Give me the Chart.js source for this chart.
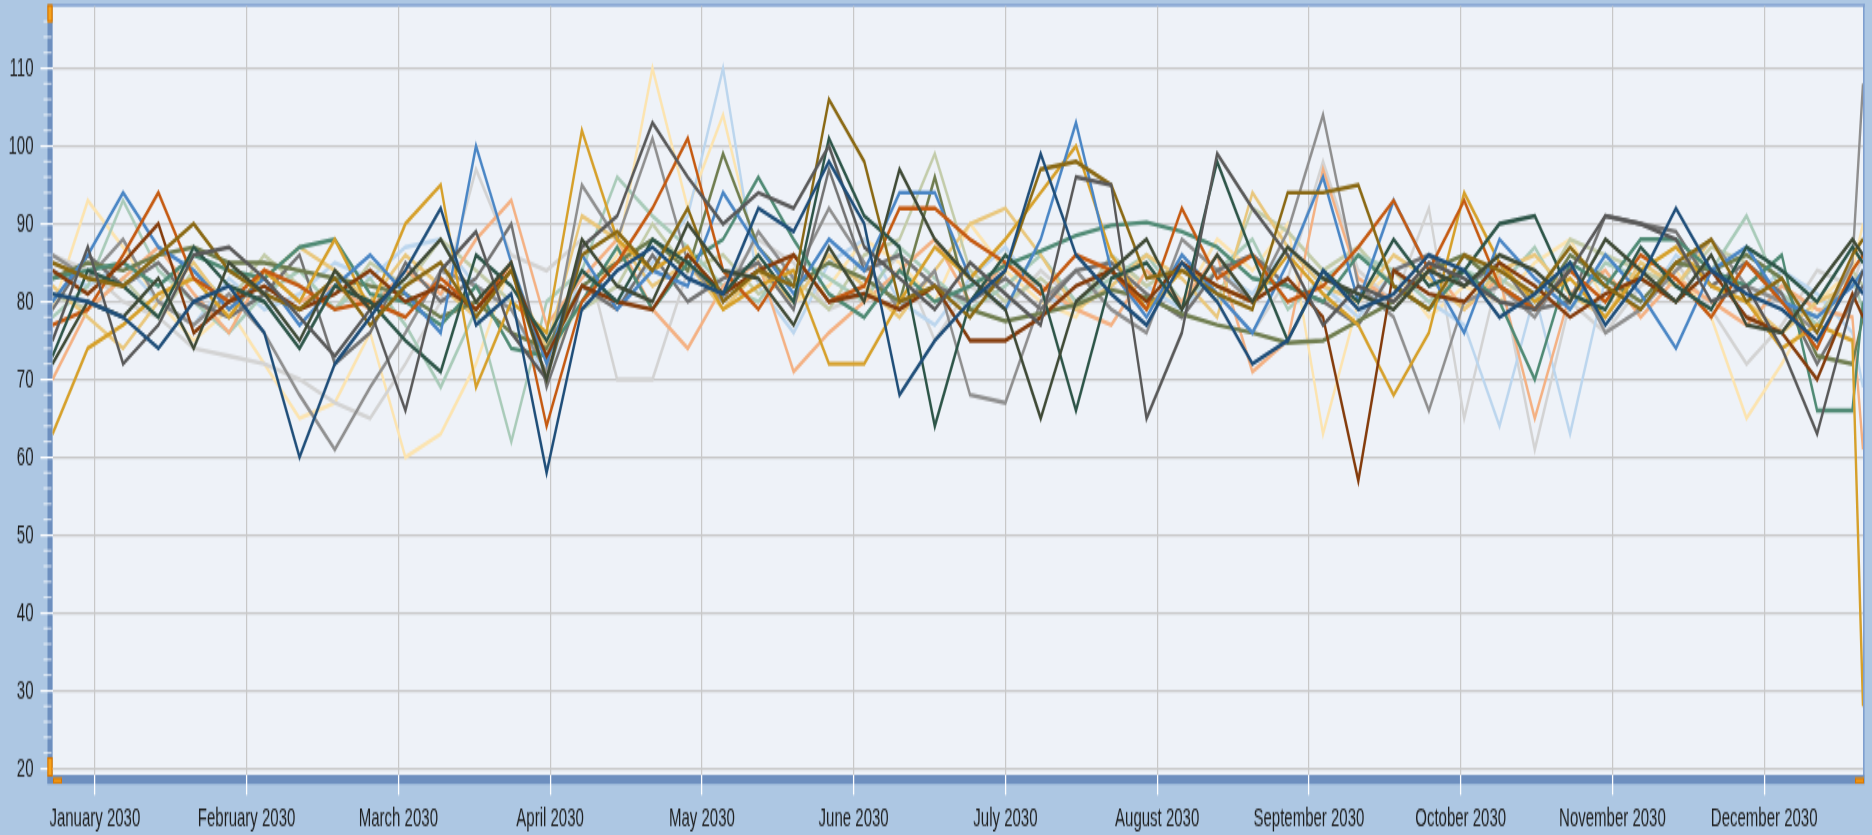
<!DOCTYPE html>
<html>
<head>
<meta charset="utf-8">
<script src="https://cdn.jsdelivr.net/npm/chart.js@4.4.1/dist/chart.umd.min.js"></script>
<style>
  html,body{margin:0;padding:0;overflow:hidden;background:#adc7e3;}
  /* the reference is stretched vertically, so draw at 472px tall and scale up to 835 */
  #wrap{position:absolute;left:0;top:0;width:1872px;height:472px;transform:scaleY(1.76907);transform-origin:0 0;}
</style>
</head>
<body>
<div id="wrap"><canvas id="chart"></canvas></div>
<script>
// month labels and where they sit on the week axis
const monthLabels = ['January 2030','February 2030','March 2030','April 2030','May 2030','June 2030','July 2030','August 2030','September 2030','October 2030','November 2030','December 2030'];
const monthPos = [1.2, 5.5, 9.8, 14.1, 18.4, 22.7, 27.0, 31.3, 35.6, 39.9, 44.2, 48.5];
// 52 whole weeks plus a short final period
const weeks = Array.from({length:52},(_,i)=>i).concat([51.3]);

const navy = [81,80,78,74,80,82,76,60,72,78, 84,92,77,81,58,79,84,87,83,81, 92,89,98,90,68,75,80,84,99,86, 81,77,85,80,72,75,84,79,81,86, 84,78,81,85,77,83,92,84,81,79, 75,83,81];
const steelBlue = [80,86,94,87,84,79,83,77,82,86, 81,76,100,85,72,86,79,84,82,94, 87,81,88,84,94,94,83,79,88,103, 84,78,86,81,76,85,96,80,93,84, 76,88,83,79,86,81,74,84,87,80, 78,82,84];
const lightBlue = [84,82,85,80,77,83,79,81,85,83, 87,88,82,79,70,84,80,85,91,110, 82,76,85,88,80,77,83,87,81,79, 86,82,79,84,81,87,82,78,84,80, 77,64,81,63,83,79,86,82,80,84, 81,76,69];
const orange = [77,79,86,94,83,80,84,82,79,80, 78,83,79,85,64,80,85,92,101,84, 79,86,80,82,92,92,88,85,81,86, 84,79,92,83,86,80,82,87,93,84, 93,82,79,84,80,86,83,78,85,80, 74,84,86];
const brown = [84,81,85,90,76,80,82,79,81,84, 80,82,79,84,73,82,80,79,86,81, 84,86,80,81,79,82,75,75,78,82, 84,80,85,82,80,83,78,57,84,81, 80,85,82,78,81,83,80,84,78,76, 70,81,78];
const peach = [70,79,83,87,81,76,84,80,82,79, 84,81,88,93,77,83,88,79,74,82, 85,71,76,80,84,88,80,85,82,79, 77,84,80,86,71,75,97,83,80,85, 79,83,65,81,84,78,83,80,77,82, 79,78,61];
const gold = [63,74,77,81,83,78,84,80,88,79, 90,95,69,80,76,102,88,84,87,79, 82,84,72,72,80,87,83,88,94,100, 86,79,84,82,80,86,81,77,68,76, 94,85,80,83,78,84,87,82,80,74, 77,75,28];
const oliveBrown = [85,83,82,86,90,84,81,79,83,77, 82,85,78,84,70,86,89,84,92,80, 84,82,106,98,80,82,78,84,97,98, 95,83,84,81,79,94,94,95,82,79, 86,84,81,87,82,79,85,88,80,83, 76,86,88];
const lightYellow = [79,93,87,80,75,79,72,65,67,76, 60,63,72,85,72,80,86,110,92,104, 85,80,82,88,85,80,90,84,80,78, 85,82,80,88,84,90,63,80,84,78, 82,80,85,88,80,83,84,78,65,72, 80,84,90];
const darkGray = [75,87,72,77,86,87,83,78,73,79, 66,84,89,76,70,87,91,103,96,90, 94,92,100,87,83,79,85,81,77,96, 95,65,76,99,92,86,77,82,80,85, 83,80,79,84,91,90,88,80,82,74, 63,80,84];
const gray = [86,83,88,80,77,81,76,68,61,69, 76,84,82,79,71,95,88,101,85,80, 89,83,92,85,79,84,68,67,80,84, 79,76,88,84,80,89,104,82,78,66, 80,82,78,85,76,79,84,88,82,80, 76,85,108];
const lightGray = [86,84,80,78,74,73,72,70,67,65, 72,80,97,86,84,88,70,70,84,82, 88,85,79,81,86,75,82,79,84,80, 82,79,86,81,76,83,98,84,80,92, 65,84,61,80,76,82,85,79,72,77, 84,82,86];
const darkTeal = [73,84,82,78,87,82,80,74,82,80, 75,71,86,82,75,84,80,88,85,81, 86,80,101,91,87,64,80,86,82,66, 83,85,79,98,86,75,84,80,88,82, 84,90,91,81,79,87,82,79,87,84, 80,87,85];
const tealGreen = [83,84,85,82,86,84,83,87,88,81, 80,77,82,74,73,80,87,79,85,88, 96,88,81,78,84,80,82,84.7,86.5,88.5, 89.8,90.2,89,87,83,82,80,86,82,79, 84,80,70,85,82,88,88,84,82,86, 66,66,80];
const lightGreen = [78,82,93,84,80,76,81,84,79,83, 77,69,79,62,80,84,96,91,87,82, 80,86,83,80,87,83,79,82,86,80, 83,86,80,84,88,79,83,86,84,80, 84,82,87,79,85,83,80,84,91,81, 77,83,79];
const olive = [83,85,84,86,87,85,85,84,83,82, 81,78,80,76,74,82,85,88,84,99, 87,82,85,83,80,96,79,77.5,78.5,79.6, 81.5,80.5,78.4,77,76,74.7,75,77.5,80,84, 86,82,79,86,83,80,85,84,86,83, 73,72,78];
const lightOlive = [81,79,83,78,84,80,86,82,79,85, 82,88,84,80,76,79,82,90,84,86, 81,83,79,86,88,99,84,80,83,79, 86,82,85,80,92,89,84,87,82,79, 86,83,80,88,86,84,82,87,85,80, 78,84,82];
const darkSlate = [72,80,78,83,74,85,81,75,84,79, 83,88,80,85,70,88,82,80,90,84, 83,77,87,80,97,88,83,79,65,80, 84,88,79,86,80,87,83,81,79,84, 82,86,84,80,88,84,80,86,77,76, 82,88,86];
const midGray = [79,86,82,85,80,78,81,86,72,76, 85,80,83,90,69,82,79,86,80,83, 85,79,97,84,86,82,80,83,79,84, 85,81,78,84,86,82,80,77,84,86, 82,85,79,80,91,90,89,82,85,81, 72,80,82];
const sand = [82,78,74,80,85,79,83,87,84,80, 86,82,78,84,74,91,88,82,85,79, 84,80,86,82,78,84,90,92,86,79, 82,86,83,78,94,87,82,80,86,83, 79,84,86,81,78,85,82,88,80,76, 80,82,84];

// first in list is drawn on top
const series = [
  ['navy', navy, '#1f4e79'], ['dark slate', darkSlate, '#3f4a36'], ['dark gray', darkGray, '#595959'],
  ['olive brown', oliveBrown, '#8a6914'], ['dark teal', darkTeal, '#2d5548'], ['brown', brown, '#843c0c'],
  ['orange', orange, '#c55a11'], ['steel blue', steelBlue, '#4a86c5'], ['gold', gold, '#d6a02a'],
  ['teal green', tealGreen, '#4f8a74'], ['olive', olive, '#6f7d4f'], ['mid gray', midGray, '#737373'],
  ['gray', gray, '#8f8f8f'], ['sand', sand, '#e9c77c'], ['peach', peach, '#f4b183'],
  ['light green', lightGreen, '#a9cbb9'], ['light olive', lightOlive, '#c3ccaa'], ['light blue', lightBlue, '#bcd6ee'],
  ['light gray', lightGray, '#d3d3d3'], ['light yellow', lightYellow, '#fce4b0']
];

const frame = {
  id: 'frame',
  beforeDraw(chart){
    const {ctx, chartArea:a} = chart;
    ctx.save();
    ctx.fillStyle = '#eef2f8';
    ctx.fillRect(a.left, a.top, a.right-a.left, a.bottom-a.top);
    // top and right borders
    ctx.fillStyle = '#7f9fcf';
    ctx.fillRect(a.left-5, a.top-1.3, a.right-a.left+7, 1.3);
    ctx.fillRect(a.right, a.top-1, 1.6, a.bottom-a.top+1);
    // axis bars
    ctx.fillStyle = '#6d8fbf';
    ctx.fillRect(a.left-5, a.top-1, 5, a.bottom-a.top+6);
    ctx.fillRect(a.left-5, a.bottom, a.right-a.left+6.6, 5.2);
    ctx.restore();
  },
  afterDraw(chart){
    const {ctx, chartArea:a, scales:{y}} = chart;
    ctx.save();
    // minor ticks on the y bar
    ctx.strokeStyle = 'rgba(255,255,255,0.75)';
    ctx.lineWidth = 1;
    for (let v = 22; v < 118; v += 2){
      if (v % 10 === 0) continue;
      const py = y.getPixelForValue(v);
      ctx.beginPath(); ctx.moveTo(a.left-9, py); ctx.lineTo(a.left-1, py); ctx.stroke();
    }
    // orange scroll handles
    ctx.fillStyle = '#f5a21c';
    ctx.strokeStyle = '#d87400';
    ctx.lineWidth = 1;
    const box = (x,yy,w,h)=>{ctx.fillRect(x,yy,w,h);ctx.strokeRect(x+0.5,yy+0.5,w-1,h-1);};
    box(a.left-5, a.top-1, 5, 10);
    box(a.left-5, a.bottom-10, 5, 11);
    box(a.left+0.5, a.bottom+1.6, 9, 3.2);
    box(a.right-8, a.bottom+1.6, 9, 3.2);
    ctx.restore();
  }
};

const noEdgePad = s => { s.paddingTop = 0; s.paddingBottom = 0; s.paddingLeft = 0; s.paddingRight = 0; };

const ctx = document.getElementById('chart').getContext('2d');
new Chart(ctx, {
  type: 'line',
  data: {
    datasets: series.map(([name, vals, color]) => ({
      label: name,
      data: vals.map((v,i)=>({x: weeks[i], y: v})),
      borderColor: color,
      borderWidth: 2.4,
      pointRadius: 0,
      tension: 0,
      fill: false
    }))
  },
  options: {
    responsive: true,
    maintainAspectRatio: false,
    animation: false,
    layout: {padding: {top: 3.6, right: 9, left: 0, bottom: 0}},
    plugins: {legend: {display: false}, tooltip: {enabled: false}},
    scales: {
      x: {
        type: 'linear', min: 0, max: 51.3,
        afterBuildTicks: s => { s.ticks = monthPos.map(v => ({value: v})); },
        afterFit: s => { s.height = 34; noEdgePad(s); },
        border: {display: false},
        grid: {color: '#c8c8c8', lineWidth: 1.2, tickLength: 11.4, tickColor: '#ffffff', tickWidth: 1.3},
        ticks: {
          autoSkip: false, maxRotation: 0, padding: 4.5, color: '#1e1e1e',
          font: {family: 'Liberation Sans, Arial, sans-serif', size: 15},
          callback: (v, i) => monthLabels[i]
        }
      },
      y: {
        min: 19.18, max: 117.94,
        afterFit: s => { s.width = 52.5; noEdgePad(s); },
        border: {display: false},
        grid: {color: '#c8c8c8', lineWidth: 1.2, tickLength: 12, tickColor: '#ffffff', tickWidth: 1.2},
        ticks: {
          stepSize: 10, includeBounds: false, padding: 7, color: '#1e1e1e',
          font: {family: 'Liberation Sans, Arial, sans-serif', size: 15}
        }
      }
    }
  },
  plugins: [frame]
});
</script>
</body>
</html>
